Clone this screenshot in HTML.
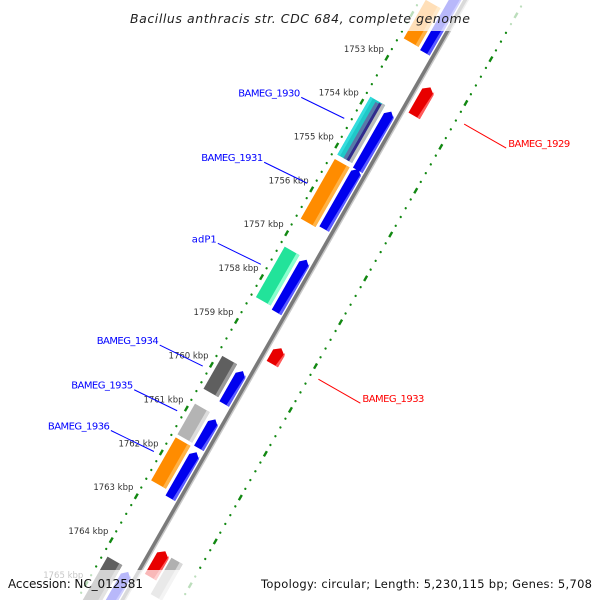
<!DOCTYPE html>
<html><head><meta charset="utf-8"><style>
html,body{margin:0;padding:0;background:#fff;width:600px;height:600px;overflow:hidden}
svg{display:block;overflow:hidden}
text{font-family:"DejaVu Sans","Liberation Sans",sans-serif}
</style></head><body>
<svg id="chart" width="600" height="600" viewBox="0 0 600 600" xmlns="http://www.w3.org/2000/svg">
<rect width="600" height="600" fill="#fff"/>
<g id="track" transform="translate(466,0) rotate(119.75)"></g>
<g id="labels"></g>
<rect x="0" y="0" width="600" height="31" fill="#fff" opacity="0.72"/>
<rect x="0" y="570" width="600" height="30" fill="#fff" opacity="0.72"/>
<text x="300" y="23" text-anchor="middle" font-size="12.5" font-style="italic" fill="#222" textLength="340">Bacillus anthracis str. CDC 684, complete genome</text>
<text x="8" y="588" font-size="12" fill="#111" textLength="135">Accession: NC_012581</text>
<text x="592" y="588" text-anchor="end" font-size="11.5" fill="#111" textLength="331">Topology: circular; Length: 5,230,115 bp; Genes: 5,708</text>
</svg>
<script>
// ---- data ----
const geneStart = [1750.79, 1751.62, 1753.88, 1753.83, 1755.19, 1755.25, 1757.26, 1757.25, 1759.80, 1759.74, 1760.90, 1760.83, 1761.65, 1761.60, 1764.38, 1764.32, 1753.08, 1759.03, 1763.66, 1763.71];
const geneEnd   = [1752.54, 1752.50, 1755.22, 1755.15, 1756.56, 1756.61, 1758.46, 1758.40, 1760.55, 1760.49, 1761.56, 1761.53, 1762.70, 1762.58, 1765.41, 1765.31, 1753.73, 1759.39, 1764.25, 1764.54];
const geneType  = ["blue","orange","blue","cyan","blue","orange","blue","green","blue","darkgray","blue","lightgray","blue","orange","blue","darkgray","red","red","red","outergray"];
const labelText = ["BAMEG_1930","BAMEG_1931","adP1","BAMEG_1934","BAMEG_1935","BAMEG_1936","BAMEG_1929","BAMEG_1933"];
const labelKbp  = [1754.46, 1755.94, 1757.79, 1760.11, 1761.13, 1762.06, 1753.38, 1759.2];
const labelSide = ["in","in","in","in","in","in","out","out"];
const kbpTicks  = [1753,1754,1755,1756,1757,1758,1759,1760,1761,1762,1763,1764,1765];

// ---- axis functions ----
const REF = 1758, REFT = 342, PXK = 50.5;
function tOf(k){ return REFT + (k-REF)*PXK; }
function screen(k, y){ const t=tOf(k); return [466 - 0.496*t - 0.868*y, 0.868*t - 0.496*y]; }

const NS="http://www.w3.org/2000/svg";
const track=document.getElementById('track');
const labels=document.getElementById('labels');
function mk(tag, attrs, parent){ const e=document.createElementNS(NS,tag); for(const k in attrs) e.setAttribute(k,attrs[k]); parent.appendChild(e); return e; }

const style = {
  blue:{c:"#0000ee",l:"#5c5cff",y1:4,y2:15,arrow:true},
  orange:{c:"#ff8c00",l:"#ffb347",y1:18,y2:35,arrow:false},
  green:{c:"#22e39a",l:"#8bffd0",y1:18,y2:35,arrow:false},
  darkgray:{c:"#5f5f5f",l:"#9a9a9a",y1:18,y2:35,arrow:false},
  lightgray:{c:"#b4b4b4",l:"#dcdcdc",y1:18,y2:35,arrow:false},
  cyan:{c:"#20c8c8",l:"#bbbbbb",y1:18,y2:35,arrow:false},
  red:{c:"#e80000",l:"#ff5a5a",y1:-19,y2:-6,arrow:true},
  outergray:{c:"#b0b0b0",l:"#d8d8d8",y1:-34,y2:-21,arrow:false}
};

// backbone
const bb0=tOf(1748), bb1=tOf(1767);
let e=mk('line',{x1:bb0,y1:0.5,x2:bb1,y2:0.5,stroke:'#7a7a7a','stroke-width':4},track);


e=mk('line',{x1:bb0,y1:-1.8,x2:bb1,y2:-1.8,stroke:'#c8c8c8','stroke-width':1.5},track);



// tick rings
[40,-51].forEach(function(ry){
  for(let i=0;i<=95;i++){
    const k=1748+i*0.2; const t=tOf(k);
    if(i%5===0){
      e=mk('rect',{x:t-3,y:ry-1.2,width:6,height:2.4,fill:'#118811'},track);
      
      
    } else {
      e=mk('circle',{cx:t,cy:ry,r:1.15,fill:'#118811'},track);
      
      
    }
  }
});

// genes
for(let i=0;i<geneStart.length;i++){
  const s=style[geneType[i]]; const t0=tOf(geneStart[i]), t1=tOf(geneEnd[i]);
  const g=mk('g',{},track);
  
  
  const ym=(s.y1+s.y2)/2; const h=Math.min(5,(t1-t0)/2);
  if(s.arrow){
    mk('polygon',{points:`${t0},${ym} ${t0+h},${s.y1} ${t1},${s.y1} ${t1},${s.y2} ${t0+h},${s.y2}`,fill:s.c},g);
    mk('polygon',{points:`${t0+h*0.4},${s.y1+1} ${t0+h},${s.y1} ${t1},${s.y1} ${t1},${s.y1+3}`,fill:s.l},g);
  } else {
    mk('rect',{x:t0,y:s.y1,width:t1-t0,height:s.y2-s.y1,fill:s.c},g);
    mk('rect',{x:t0,y:s.y1,width:t1-t0,height:3.5,fill:s.l},g);
    if(geneType[i]==='cyan'){
      mk('rect',{x:t0+1,y:s.y1+3.5,width:t1-t0-1,height:3,fill:'#332a8c'},g);
      mk('rect',{x:t0+2,y:s.y1+6.5,width:t1-t0-2,height:3.5,fill:'#5a78a8'},g);
      mk('rect',{x:t0,y:s.y2-3,width:t1-t0,height:3,fill:'#33dddd'},g);
    }
  }
}

// kbp labels
kbpTicks.forEach(function(k){
  const p=screen(k,40);
  const tx=mk('text',{x:(p[0]-3).toFixed(1),y:(p[1]-6).toFixed(1),'text-anchor':'end','font-size':8.5,fill:'#333'},labels);
  tx.textContent=k+' kbp';
  
  
});

// gene labels with leader lines
for(let i=0;i<labelText.length;i++){
  const inner=labelSide[i]==='in';
  const a=screen(labelKbp[i], inner?47:-60);
  const b=[a[0]+(inner?-43:42), a[1]+(inner?-21:24)];
  const col=inner?'#0000ff':'#ff0000';
  let ln=mk('line',{x1:a[0],y1:a[1],x2:b[0],y2:b[1],stroke:col,'stroke-width':1},labels);
  
  
  const w=labelText[i].length*6.2;
  const tx=mk('text',{x:(inner?b[0]-1:b[0]+2).toFixed(1),y:(b[1]-1).toFixed(1),'text-anchor':inner?'end':'start','font-size':10,fill:col,textLength:w.toFixed(0)},labels);
  tx.textContent=labelText[i];
  
  
}
</script>
</body></html>
